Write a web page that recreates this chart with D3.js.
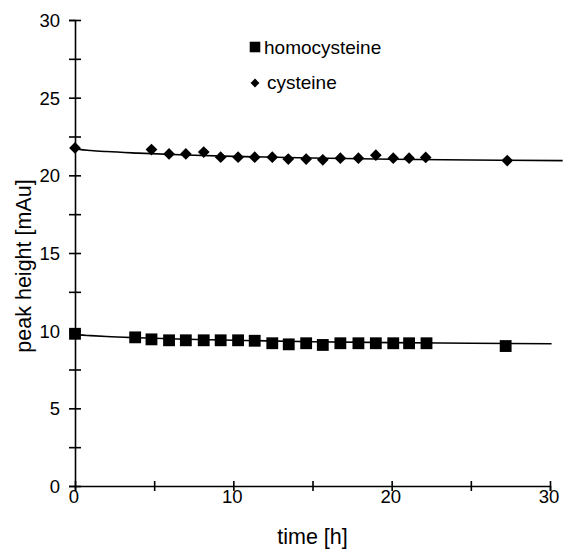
<!DOCTYPE html>
<html>
<head>
<meta charset="utf-8">
<script src="https://cdn.jsdelivr.net/npm/d3@7"></script>
<style>
  body { margin: 0; background: #fff; }
  svg { display: block; }
  text { font-family: "Liberation Sans", Arial, sans-serif; fill: #000; }
</style>
</head>
<body>
<div id="canvas"></div>
<script>
"use strict"

/* Data */
let homTime = [0, 3.8, 4.83, 5.94, 7.0, 8.13, 9.2, 10.3, 11.35, 12.46, 13.5, 14.6, 15.65, 16.76, 17.9, 19.0, 20.1, 21.1, 22.2, 27.2];
let homPeak = [9.8, 9.57, 9.44, 9.38, 9.38, 9.38, 9.38, 9.38, 9.35, 9.19, 9.12, 9.19, 9.08, 9.19, 9.19, 9.19, 9.19, 9.19, 9.19, 9.01];

let cysTime = [0, 4.83, 5.94, 7.0, 8.13, 9.2, 10.3, 11.35, 12.46, 13.47, 14.6, 15.65, 16.76, 17.9, 19.0, 20.1, 21.1, 22.15, 27.3];
let cysPeak = [21.76, 21.66, 21.38, 21.38, 21.5, 21.17, 21.17, 21.17, 21.17, 21.05, 21.05, 21.0, 21.1, 21.1, 21.3, 21.1, 21.1, 21.15, 20.95];

// fitted trend lines
let homTrendX = [0, 0.3, 1, 2, 4, 7, 10, 15, 20, 25, 30.1];
let homTrendY = [9.8, 9.73, 9.68, 9.62, 9.54, 9.45, 9.38, 9.29, 9.23, 9.19, 9.16];
let cysTrendX = [0, 0.3, 1, 2, 4, 7, 10, 15, 20, 25, 30.8];
let cysTrendY = [21.76, 21.67, 21.6, 21.53, 21.43, 21.31, 21.22, 21.12, 21.04, 20.99, 20.95];

let xTicks = [0, 5, 10, 15, 20, 25, 30];
let xLabels = [0, 10, 20, 30];
let yTicks = [0, 2.5, 5, 7.5, 10, 12.5, 15, 17.5, 20, 22.5, 25, 27.5, 30];
let yLabels = [0, 5, 10, 15, 20, 25, 30];

let seriesNames = ["homocysteine", "cysteine"];

/* Layout */
let svgWidth = 577;
let svgHeight = 559;
let margin = { top: 20, right: 27, bottom: 73, left: 75 };

let svg = d3.select("#canvas")
    .append("svg")
    .attr("width", svgWidth)
    .attr("height", svgHeight);

svg.append("rect")
    .attr("width", svgWidth)
    .attr("height", svgHeight)
    .attr("fill", "white");

let xScale = d3.scaleLinear()
    .domain([0, 30])
    .range([margin.left, svgWidth - margin.right]);

let yScale = d3.scaleLinear()
    .domain([0, 30])
    .range([svgHeight - margin.bottom, margin.top]);

let tickFont = "18.5px";
let titleFont = "21.5px";

// X axis - ticks cross the line
let xAxis = svg.append("g")
    .attr("transform", "translate(0," + yScale(0) + ")")
    .call(d3.axisBottom(xScale).tickValues(xTicks).tickSizeOuter(0).tickSize(5).tickFormat(""));
xAxis.selectAll(".tick line").attr("y1", -5).attr("y2", 5).attr("stroke-width", 1.6);
xAxis.select(".domain").attr("stroke-width", 1.6);

for (let i = 0; i < xLabels.length; i++) {
    svg.append("text")
        .attr("x", xScale(xLabels[i]) - 1)
        .attr("y", yScale(0) + 17)
        .attr("text-anchor", "middle")
        .style("font-size", tickFont)
        .text(xLabels[i]);
}

// Y axis
let yAxis = svg.append("g")
    .attr("transform", "translate(" + xScale(0) + ",0)")
    .call(d3.axisLeft(yScale).tickValues(yTicks).tickSizeOuter(0).tickSize(6).tickFormat(""));
yAxis.selectAll(".tick line").attr("x1", -6).attr("x2", 6).attr("stroke-width", 1.6);
yAxis.select(".domain").attr("stroke-width", 1.6);

for (let i = 0; i < yLabels.length; i++) {
    svg.append("text")
        .attr("x", xScale(0) - 15)
        .attr("y", yScale(yLabels[i]) + 7)
        .attr("text-anchor", "end")
        .style("font-size", tickFont)
        .text(yLabels[i]);
}

// Axis titles
svg.append("text")
    .attr("x", (xScale(0) + xScale(30)) / 2)
    .attr("y", 544)
    .attr("text-anchor", "middle")
    .style("font-size", titleFont)
    .text("time [h]");

svg.append("text")
    .attr("transform", "translate(31," + 266 + ") rotate(-90)")
    .attr("text-anchor", "middle")
    .style("font-size", titleFont)
    .text("peak height [mAu]");

// Trend lines
let line = d3.line()
    .x(function(d) { return xScale(d[0]); })
    .y(function(d) { return yScale(d[1]); })
    .curve(d3.curveMonotoneX);

svg.append("path")
    .datum(d3.zip(homTrendX, homTrendY))
    .attr("d", line)
    .attr("fill", "none")
    .attr("stroke", "black")
    .attr("stroke-width", 1.6);

svg.append("path")
    .datum(d3.zip(cysTrendX, cysTrendY))
    .attr("d", line)
    .attr("fill", "none")
    .attr("stroke", "black")
    .attr("stroke-width", 1.6);

// Markers
let squareSym = d3.symbol().type(d3.symbolSquare).size(140);
let diamondSym = d3.symbol().type(d3.symbolDiamond2).size(88);

svg.selectAll("path.hom")
    .data(d3.zip(homTime, homPeak))
    .join("path")
    .classed("hom", true)
    .attr("d", squareSym)
    .attr("transform", function(d) { return "translate(" + xScale(d[0]) + "," + yScale(d[1]) + ")"; })
    .attr("fill", "black");

svg.selectAll("path.cys")
    .data(d3.zip(cysTime, cysPeak))
    .join("path")
    .classed("cys", true)
    .attr("d", diamondSym)
    .attr("transform", function(d) { return "translate(" + xScale(d[0]) + "," + yScale(d[1]) + ")"; })
    .attr("fill", "black");

// Legend
svg.append("path")
    .attr("d", d3.symbol().type(d3.symbolSquare).size(112))
    .attr("transform", "translate(255,47)")
    .attr("fill", "black");
svg.append("text")
    .attr("x", 264)
    .attr("y", 54)
    .style("font-size", "19px")
    .text(seriesNames[0]);

svg.append("path")
    .attr("d", d3.symbol().type(d3.symbolDiamond2).size(50))
    .attr("transform", "translate(255,83)")
    .attr("fill", "black");
svg.append("text")
    .attr("x", 267)
    .attr("y", 89)
    .style("font-size", "19px")
    .text(seriesNames[1]);
</script>
</body>
</html>
